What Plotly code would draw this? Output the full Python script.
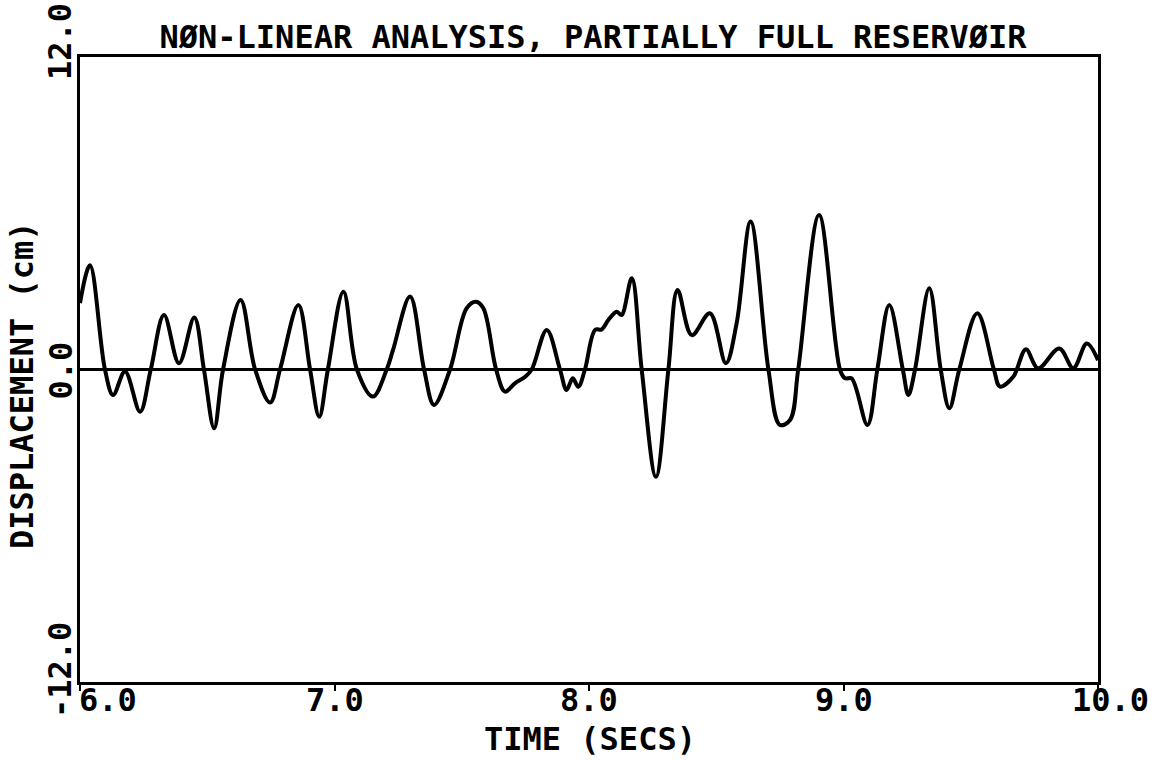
import plotly.graph_objects as go

# Displacement time history (seconds, cm)
time_s = [
    6.000, 6.039, 6.098, 6.130, 6.177, 6.236, 6.278, 6.330, 6.389, 6.449,
    6.487, 6.527, 6.562, 6.631, 6.688, 6.747, 6.786, 6.858, 6.904, 6.940,
    6.974, 7.035, 7.088, 7.151, 7.205, 7.230, 7.297, 7.352, 7.391, 7.454,
    7.519, 7.556, 7.585, 7.635, 7.670, 7.709, 7.749, 7.775, 7.834, 7.886,
    7.912, 7.936, 7.958, 7.984, 8.024, 8.050, 8.076, 8.109, 8.128, 8.168,
    8.207, 8.263, 8.312, 8.348, 8.404, 8.475, 8.538, 8.580, 8.635, 8.705,
    8.750, 8.790, 8.822, 8.904, 8.986, 9.006, 9.032, 9.094, 9.133, 9.180,
    9.233, 9.255, 9.281, 9.337, 9.382, 9.416, 9.455, 9.526, 9.591, 9.615,
    9.667, 9.681, 9.717, 9.765, 9.848, 9.903, 9.956, 10.000,
]
displacement_cm = [
    2.55, 4.00, 0.00, -0.98, -0.08, -1.62, 0.00, 2.09, 0.24, 2.00,
    0.00, -2.26, 0.00, 2.67, 0.00, -1.27, 0.00, 2.48, 0.00, -1.81,
    0.00, 2.99, 0.00, -1.04, 0.00, 0.75, 2.80, 0.00, -1.36, 0.00,
    2.35, 2.60, 2.35, 0.00, -0.85, -0.53, -0.28, 0.00, 1.52, 0.00,
    -0.79, -0.34, -0.66, 0.00, 1.52, 1.54, 1.90, 2.22, 2.09, 3.50,
    0.00, -4.12, 0.00, 3.05, 1.32, 2.16, 0.24, 1.77, 5.68, 0.00,
    -2.13, -1.94, 0.00, 5.93, 0.00, -0.34, -0.34, -2.13, 0.00, 2.48,
    0.00, -0.98, 0.00, 3.12, 0.00, -1.49, 0.00, 2.16, 0.00, -0.66,
    -0.28, 0.00, 0.78, 0.05, 0.81, 0.05, 1.00, 0.36,
]

x_ticks = [6.0, 7.0, 8.0, 9.0, 10.0]
x_tick_text = ["6.0", "7.0", "8.0", "9.0", "10.0"]
y_ticks = [12.0, 0.0, -12.0]
y_tick_text = ["12.0", "0.0", "-12.0"]

title_text = "NØN-LINEAR ANALYSIS, PARTIALLY FULL RESERVØIR"
x_title = "TIME (SECS)"
y_title = "DISPLACEMENT (cm)"

FONT = dict(family="DejaVu Sans Mono", size=32, color="black", weight="bold")

fig = go.Figure()
fig.add_trace(go.Scatter(
    x=time_s, y=displacement_cm, mode="lines",
    line=dict(color="black", width=4, shape="spline", smoothing=1.0),
    hoverinfo="skip", showlegend=False,
))

fig.update_layout(
    width=1161, height=760,
    margin=dict(l=80, r=63, t=57, b=78),
    paper_bgcolor="white", plot_bgcolor="white",
    showlegend=False,
    title=dict(text=title_text, font=FONT, x=593 / 1161, xanchor="center",
               xref="container", y=1 - 37 / 760, yanchor="middle", yref="container"),
)
fig.update_xaxes(
    range=[6, 10], showgrid=False, zeroline=False,
    showline=True, linecolor="black", linewidth=3, mirror=True,
    ticks="outside", tickvals=x_ticks, ticklen=6, tickwidth=2, tickcolor="black",
    showticklabels=False,
)
fig.update_yaxes(
    range=[-12, 12], showgrid=False,
    zeroline=True, zerolinecolor="black", zerolinewidth=3,
    showline=True, linecolor="black", linewidth=3, mirror=True,
    ticks="", showticklabels=False,
)

# tick labels
x_shift = {6.0: 28, 10.0: 12}
for v, t in zip(x_ticks, x_tick_text):
    fig.add_annotation(x=v, xref="x", y=-18 / 625, yref="paper", text=t,
                       showarrow=False, font=FONT, xanchor="center", yanchor="middle",
                       xshift=x_shift.get(v, 0))
y_shift = {12.0: 15, 0.0: -1, -12.0: 12}
for v, t in zip(y_ticks, y_tick_text):
    fig.add_annotation(x=-20 / 1018, xref="paper", y=v, yref="y", text=t,
                       showarrow=False, font=FONT, textangle=-90,
                       xanchor="center", yanchor="middle", yshift=y_shift[v])

# axis titles
fig.add_annotation(x=(590 - 80) / 1018, xref="paper", y=(682 - 739) / 625, yref="paper",
                   text=x_title, showarrow=False, font=FONT,
                   xanchor="center", yanchor="middle")
fig.add_annotation(x=(22 - 80) / 1018, xref="paper", y=(682 - 385) / 625, yref="paper",
                   text=y_title, showarrow=False, font=FONT, textangle=-90,
                   xanchor="center", yanchor="middle")

fig.write_html("out.html")
